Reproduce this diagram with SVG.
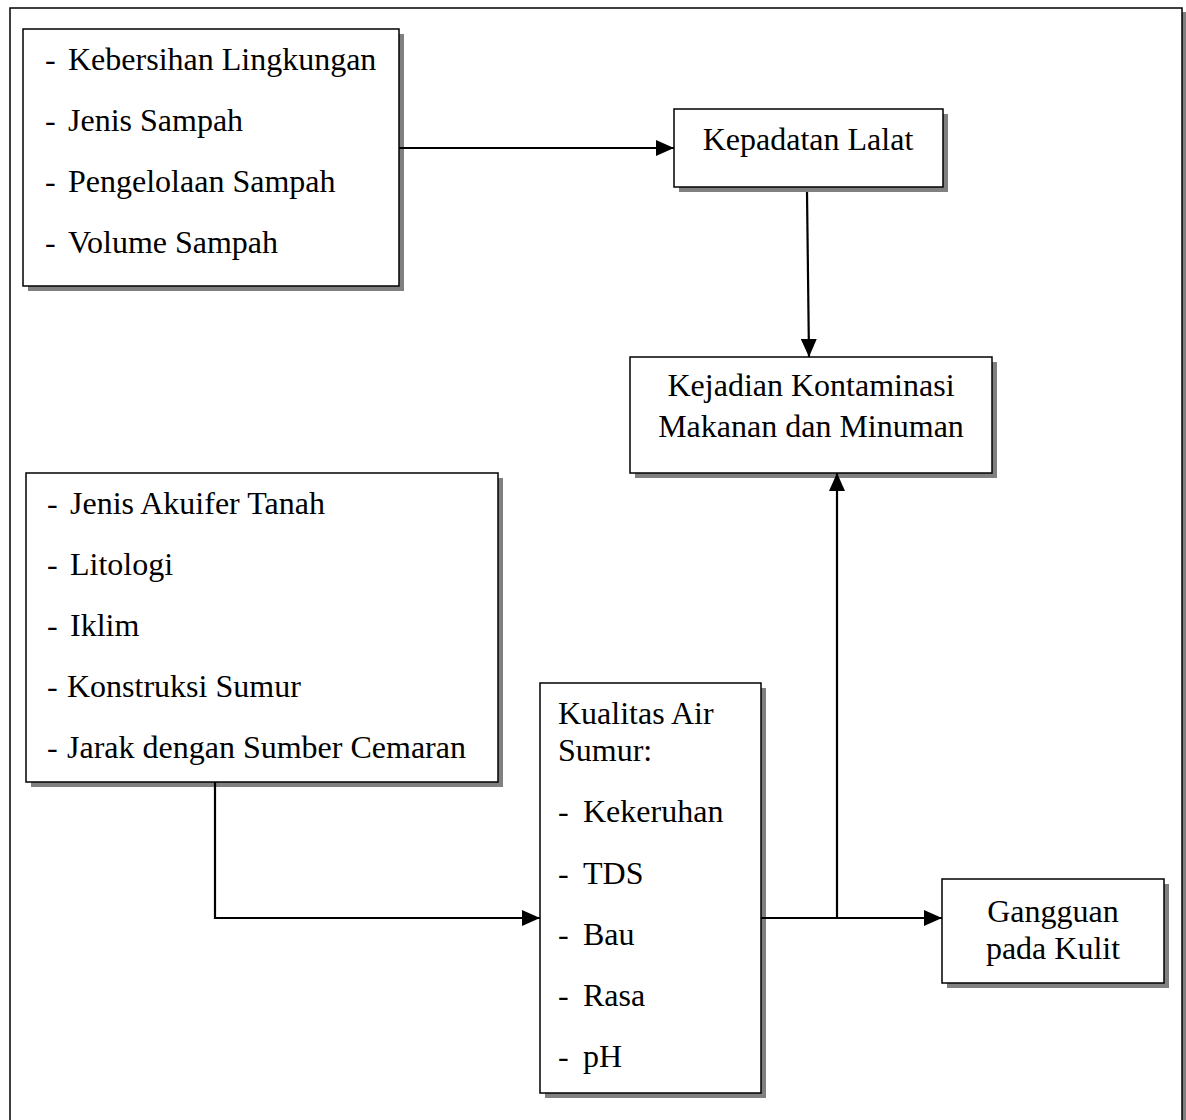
<svg xmlns="http://www.w3.org/2000/svg" width="1186" height="1120" viewBox="0 0 1186 1120">
<defs>
<style>
.shadow{fill:#808080;stroke:none}
.box{fill:#fff;stroke:#000;stroke-width:1.5}
.t{font-family:"Liberation Serif","Times New Roman",serif;font-size:32px;fill:#000}
.c{text-anchor:middle}
.line{fill:none;stroke:#000;stroke-width:2.2}
</style>
<marker id="arr" viewBox="0 0 18 16" refX="18" refY="8" markerWidth="18" markerHeight="16" markerUnits="userSpaceOnUse" orient="auto">
<path d="M0,0 L18,8 L0,16 Z" fill="#000"/>
</marker>
</defs>
<rect width="1186" height="1120" fill="#fff"/>
<g id="frame">
<rect class="shadow" x="14" y="12" width="1172" height="1130"/>
<rect class="box" x="10" y="8" width="1172" height="1130"/>
</g>
<g id="sampah">
<rect class="shadow" x="28" y="34" width="376" height="257"/>
<rect class="box" x="23" y="29" width="376" height="257"/>
<text class="t" x="45" y="70">-<tspan x="68">Kebersihan Lingkungan</tspan></text>
<text class="t" x="45" y="131">-<tspan x="68">Jenis Sampah</tspan></text>
<text class="t" x="45" y="192">-<tspan x="68">Pengelolaan Sampah</tspan></text>
<text class="t" x="45" y="253">-<tspan x="68">Volume Sampah</tspan></text>
</g>
<g id="lalat">
<rect class="shadow" x="679" y="114" width="269" height="78"/>
<rect class="box" x="674" y="109" width="269" height="78"/>
<text class="t c" x="808" y="150">Kepadatan Lalat</text>
</g>
<g id="kontaminasi">
<rect class="shadow" x="635" y="362" width="362" height="116"/>
<rect class="box" x="630" y="357" width="362" height="116"/>
<text class="t c" x="811" y="396">Kejadian Kontaminasi</text>
<text class="t c" x="811" y="437">Makanan dan Minuman</text>
</g>
<g id="sumur">
<rect class="shadow" x="31" y="478" width="472" height="309"/>
<rect class="box" x="26" y="473" width="472" height="309"/>
<text class="t" x="47" y="514">-<tspan x="70">Jenis Akuifer Tanah</tspan></text>
<text class="t" x="47" y="575">-<tspan x="70">Litologi</tspan></text>
<text class="t" x="47" y="636">-<tspan x="70">Iklim</tspan></text>
<text class="t" x="47" y="697">-<tspan x="67">Konstruksi Sumur</tspan></text>
<text class="t" x="47" y="758">-<tspan x="67">Jarak dengan Sumber Cemaran</tspan></text>
</g>
<g id="kualitas">
<rect class="shadow" x="545" y="688" width="221" height="410"/>
<rect class="box" x="540" y="683" width="221" height="410"/>
<text class="t" x="558" y="724">Kualitas Air</text>
<text class="t" x="558" y="761">Sumur:</text>
<text class="t" x="558" y="822">-<tspan x="583">Kekeruhan</tspan></text>
<text class="t" x="558" y="884">-<tspan x="583">TDS</tspan></text>
<text class="t" x="558" y="945">-<tspan x="583">Bau</tspan></text>
<text class="t" x="558" y="1006">-<tspan x="583">Rasa</tspan></text>
<text class="t" x="558" y="1067">-<tspan x="583">pH</tspan></text>
</g>
<g id="kulit">
<rect class="shadow" x="947" y="884" width="222" height="104"/>
<rect class="box" x="942" y="879" width="222" height="104"/>
<text class="t c" x="1053" y="922">Gangguan</text>
<text class="t c" x="1053" y="959">pada Kulit</text>
</g>
<g id="connectors">
<path class="line" d="M399,148 L674,148" marker-end="url(#arr)"/>
<path class="line" d="M807,192 L809,357" marker-end="url(#arr)"/>
<path class="line" d="M215,782 L215,918 L540,918" marker-end="url(#arr)"/>
<path class="line" d="M761,918 L942,918" marker-end="url(#arr)"/>
<path class="line" d="M837,918 L837,473" marker-end="url(#arr)"/>
</g>
</svg>
